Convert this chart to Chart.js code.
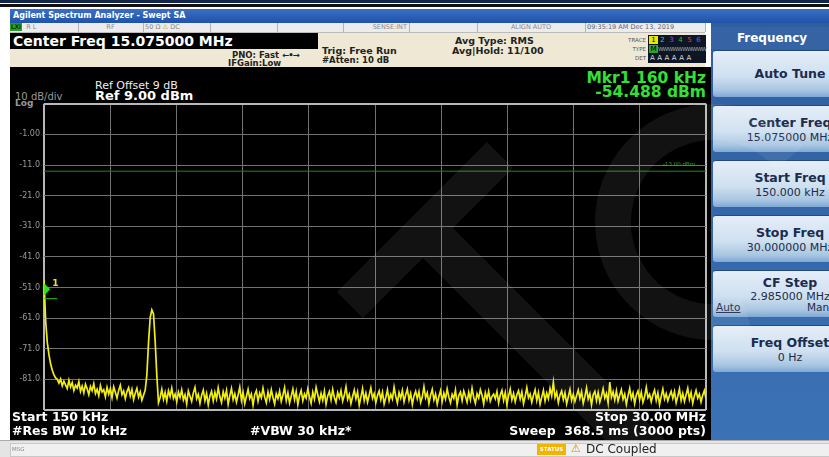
<!DOCTYPE html>
<html>
<head>
<meta charset="utf-8">
<script src="https://cdn.jsdelivr.net/npm/chart.js@4.4.1/dist/chart.umd.min.js"></script>
<style>
  body { margin: 0; width: 829px; height: 457px; overflow: hidden; position: relative; background: #fff; font-family: "DejaVu Sans", Verdana, sans-serif; }
  .abs { position: absolute; white-space: nowrap; }
  .b { font-weight: bold; }
  .cell { position: absolute; top: 0; height: 9px; border-right: 1px solid #b4b4b4; font-size: 6.5px; color: #8a8a8a; line-height: 9px; }
  .btn { position: absolute; left: 713px; width: 154px; height: 46px; border-radius: 3px;
         background: linear-gradient(#e4eef8, #cfe0f0 55%, #a9c6e2 85%, #7ea9d6); color: #1b2c4c; text-align: center;
         border-top: 1px solid #25497d; }
  .btn .t { font-size: 12.5px; font-weight: bold; margin-top: 9px; }
  .btn .s { font-size: 11px; margin-top: 1px; }
  .tr { position: absolute; width: 9px; height: 8px; font-size: 7px; line-height: 8px; text-align: center; }
  .w { color: #fff; font-weight: bold; font-size: 12.5px; }
</style>
</head>
<body>

<!-- window frame -->
<div class="abs" style="left:0;top:0;width:829px;height:3px;background:#13264a"></div>
<div class="abs" style="left:0;top:4px;width:829px;height:3px;background:#111"></div>
<div class="abs b" style="left:10px;top:9px;width:819px;height:14px;background:linear-gradient(#3a70c4,#1f52a8);color:#fff;font-size:8px;line-height:14px;padding-left:3px">Agilent Spectrum Analyzer - Swept SA</div>

<!-- status row -->
<div class="abs" style="left:10px;top:23px;width:695px;height:9px;background:#ececec;border-bottom:1px solid #bbb">
  <div class="cell" style="left:0;width:68px"><span style="background:#2a9a2a;color:#000;padding:0 1px">LXI</span>&nbsp; R L</div>
  <div class="cell" style="left:68px;width:65px;text-align:center">RF</div>
  <div class="cell" style="left:133px;width:67px">&nbsp;50 Ω <span style="color:#d89a00">⚠</span> DC</div>
  <div class="cell" style="left:200px;width:67px"></div>
  <div class="cell" style="left:267px;width:66px"></div>
  <div class="cell" style="left:333px;width:66px;text-align:right">SENSE:INT&nbsp;</div>
  <div class="cell" style="left:400px;width:67px"></div>
  <div class="cell" style="left:467px;width:108px;text-align:center">ALIGN AUTO</div>
  <div class="cell" style="left:575px;width:120px;color:#666">&nbsp;09:35:19 AM Dec 13, 2019</div>
</div>

<!-- settings panel -->
<div class="abs" style="left:10px;top:33px;width:695px;height:34px;background:#eee8d5"></div>
<div class="abs b" style="left:10px;top:33px;width:305px;height:16px;background:#000;color:#fff;font-size:14px;line-height:16px;padding-left:3px">Center Freq 15.075000 MHz</div>
<div class="abs b" style="left:232px;top:50px;font-size:8.5px;color:#222">PNO: Fast <span style="letter-spacing:-1px">←•→</span></div>
<div class="abs b" style="left:228px;top:58px;font-size:8.5px;color:#222">IFGain:Low</div>
<div class="abs b" style="left:322px;top:45px;font-size:9.5px;color:#222">Trig: Free Run</div>
<div class="abs b" style="left:322px;top:55px;font-size:8.5px;color:#222">#Atten: 10 dB</div>
<div class="abs b" style="left:455px;top:35px;font-size:9.5px;color:#222">Avg Type: RMS</div>
<div class="abs b" style="left:452px;top:45px;font-size:9.5px;color:#222">Avg|Hold: 11/100</div>
<div class="abs" style="left:614px;top:36px;font-size:5.5px;color:#555;text-align:right;width:32px;line-height:9px">TRACE<br>TYPE<br>DET</div>
<div class="abs" style="left:648px;top:35px;width:58px;height:28px;background:#0e1626"></div>
<div class="tr" style="left:649px;top:36px;background:#e8e800;color:#000">1</div>
<div class="tr" style="left:658px;top:36px;color:#22c8e8">2</div>
<div class="tr" style="left:667px;top:36px;color:#d030d0">3</div>
<div class="tr" style="left:676px;top:36px;color:#30c030">4</div>
<div class="tr" style="left:685px;top:36px;color:#e04040">5</div>
<div class="tr" style="left:694px;top:36px;color:#5060ff">6</div>
<div class="tr" style="left:649px;top:45px;background:#30a030;color:#000">M</div>
<div class="abs" style="left:658px;top:45px;font-size:5.5px;line-height:8px;color:#aaa;letter-spacing:-0.6px">WWWWWWWWWW</div>
<div class="abs" style="left:650px;top:54px;font-size:7px;line-height:8px;color:#ddd;letter-spacing:2.3px">AAAAAA</div>

<!-- screen -->
<div class="abs" style="left:10px;top:67px;width:701px;height:373px;background:#000"></div>
<div class="abs" style="left:95px;top:79px;font-size:11px;color:#eee">Ref Offset 9 dB</div>
<div class="abs b" style="left:95px;top:88px;font-size:13px;color:#fff">Ref 9.00 dBm</div>
<div class="abs" style="left:15px;top:91px;font-size:10px;color:#999">10 dB/div</div>
<div class="abs b" style="left:15px;top:98px;font-size:9px;color:#999">Log</div>
<div class="abs b" style="right:123px;top:69px;font-size:15.5px;color:#35e035">Mkr1 160 kHz</div>
<div class="abs b" style="right:123px;top:83px;font-size:15.5px;color:#35e035">-54.488 dBm</div>

<canvas id="sa" class="abs" width="700" height="325" style="left:10px;top:95px"></canvas>
<div class="abs" style="left:663px;top:161px;font-size:5.5px;color:#2aa02a">-13.00 dBm</div>

<div class="abs w" style="left:12px;top:409px">Start 150 kHz</div>
<div class="abs w" style="left:12px;top:423px">#Res BW 10 kHz</div>
<div class="abs w" style="left:250px;top:423px">#VBW 30 kHz*</div>
<div class="abs w" style="right:123px;top:409px">Stop 30.00 MHz</div>
<div class="abs w" style="right:123px;top:423px">Sweep &nbsp;368.5 ms (3000 pts)</div>

<!-- softkey panel -->
<div class="abs" style="left:711px;top:23px;width:118px;height:417px;background:linear-gradient(#2f5e9e,#3b72b6)"></div>
<div class="abs b" style="left:711px;top:27px;width:122px;height:22px;text-align:center;color:#fff;font-size:12px;line-height:22px;background:#3563a4">Frequency</div>
<div class="btn" style="top:50px"><div class="t" style="margin-top:15px">Auto Tune</div></div>
<div class="btn" style="top:105px"><div class="t">Center Freq</div><div class="s">15.075000 MHz</div></div>
<div class="btn" style="top:160px"><div class="t">Start Freq</div><div class="s">150.000 kHz</div></div>
<div class="btn" style="top:215px"><div class="t">Stop Freq</div><div class="s">30.000000 MHz</div></div>
<div class="btn" style="top:270px"><div class="t" style="margin-top:4px">CF Step</div><div class="s" style="margin-top:0">2.985000 MHz</div>
  <div class="abs" style="left:3px;top:30px;font-size:10.5px;text-decoration:underline">Auto</div>
  <div class="abs" style="left:94px;top:30px;font-size:10.5px">Man</div></div>
<div class="btn" style="top:325px"><div class="t">Freq Offset</div><div class="s">0 Hz</div></div>

<!-- message bar -->
<div class="abs" style="left:0;top:440px;width:829px;height:17px;background:#e4e4e4;border-top:1px solid #aaa"></div>
<div class="abs" style="left:10px;top:443px;width:819px;height:12px;background:#f0f0f0;border:1px solid #c8c8c8"></div>
<div class="abs" style="left:12px;top:446px;font-size:5.5px;color:#888">MSG</div>
<div class="abs b" style="left:537px;top:444px;width:29px;height:11px;background:#f2b400;color:#fff;font-size:5.5px;line-height:11px;text-align:center">STATUS</div>
<div class="abs" style="left:571px;top:442px;font-size:11px;color:#d09000">⚠</div>
<div class="abs" style="left:586px;top:442px;font-size:12px;color:#222">DC Coupled</div>

<!-- faint logo watermark over the screen -->
<svg class="abs" width="829" height="457" style="left:0;top:0;pointer-events:none">
  <g opacity="0.07" fill="#fff">
    <polygon points="337,292 487,142 513,168 363,318"/>
    <polygon points="410,245 440,215 665,440 605,440"/>
  </g>
  <path d="M 789.6 157.7 A 100 100 0 1 0 747.2 316" fill="none" stroke="#fff" stroke-width="36" opacity="0.07"/>
</svg>

<script>
// Sweep settings (MHz) and reference level (dBm)
const startFreq = 0.15;
const stopFreq = 30;
const refLevel = 9;
const dbPerDiv = 10;
const displayLine = -13;
const markerFreq = 0.16;
const markerDbm = -54.488;

// trace, equally spaced between start and stop
const traceDbm = [
  -48.5, -62, -69, -73, -76, -78, -79.5, -80.5, -81, -82.2, -80.9, -83.1, -81.6, -82.8, -84.0, -81.3, -83.5, -82.1, -84.6, -82.9,
  -83.8, -81.7, -84.9, -83.2, -85.4, -82.6, -84.1, -86.0, -83.3, -84.7, -82.4, -85.6, -84.2, -86.3, -83.0, -85.1, -84.4, -86.7, -83.6, -85.8,
  -84.0, -86.9, -83.4, -85.2, -87.1, -84.6, -82.9, -86.0, -84.8, -87.3, -85.0, -83.7, -86.4, -84.3, -87.6, -85.5, -83.9, -86.8, -85.1, -87.8,
  -86.2, -84.5, -79.5, -69.0, -60.8, -58.3, -59.6, -68.5, -79.8, -88.6, -86.9, -84.2, -87.5, -85.3, -88.1, -84.7, -86.6, -83.9, -87.2, -85.8,
  -88.3, -85.1, -86.9, -84.4, -87.7, -86.0, -89.0, -84.8, -86.5, -88.2, -85.4, -83.6, -87.3, -85.9, -88.8, -86.2, -84.5, -87.9, -85.6, -89.3,
  -86.4, -84.9, -88.0, -85.2, -87.4, -83.8, -86.7, -88.5, -85.0, -87.1, -84.6, -89.1, -86.3, -84.0, -87.6, -85.7, -88.4, -86.1, -83.5, -87.8,
  -85.3, -88.9, -86.6, -84.3, -87.2, -85.8, -89.4, -86.0, -84.7, -88.1, -85.5, -87.0, -83.9, -86.8, -88.6, -85.1, -87.5, -84.4, -86.9, -89.0,
  -85.7, -87.3, -84.8, -88.2, -86.1, -83.7, -87.9, -85.4, -88.7, -86.5, -84.2, -87.6, -85.0, -89.2, -86.3, -84.6, -88.0, -85.8, -87.1, -84.1,
  -86.7, -88.8, -85.2, -87.4, -83.6, -86.0, -88.3, -85.6, -87.8, -84.9, -89.1, -86.4, -85.0, -87.7, -84.3, -86.9, -88.5, -85.3, -87.0, -84.7,
  -88.1, -86.2, -83.4, -87.5, -85.9, -88.9, -86.6, -84.5, -87.3, -85.1, -89.4, -86.8, -84.0, -87.9, -85.5, -88.4, -86.1, -83.8, -87.2, -85.7,
  -88.6, -86.3, -84.8, -87.6, -85.2, -89.0, -86.9, -84.4, -88.0, -85.9, -87.4, -83.5, -86.5, -88.7, -85.3, -87.1, -84.6, -88.3, -86.0, -84.2,
  -87.8, -85.6, -89.2, -86.4, -84.9, -87.3, -85.0, -88.5, -86.7, -83.4, -87.0, -85.4, -88.9, -86.2, -84.3, -87.7, -85.8, -89.1, -86.6, -84.7,
  -88.2, -85.5, -87.4, -84.1, -86.8, -88.6, -85.9, -87.2, -84.5, -89.3, -86.3, -85.1, -87.9, -84.8, -86.5, -88.4, -85.2, -87.6, -83.9, -86.9,
  -88.8, -85.7, -87.1, -84.4, -86.2, -89.0, -85.4, -87.5, -84.9, -88.1, -86.6, -85.8, -87.3, -85.0, -88.7, -86.1, -84.6, -87.8, -85.3, -89.2,
  -86.4, -84.2, -87.7, -85.6, -88.3, -86.0, -84.7, -87.4, -85.1, -88.9, -86.5, -83.7, -87.0, -85.8, -88.5, -86.2, -84.4, -87.9, -85.3, -89.1,
  -86.8, -84.6, -88.0, -85.5, -87.3, -84.0, -86.4, -82.0, -86.9, -85.2, -88.6, -86.1, -84.8, -87.6, -85.4, -89.0, -86.7, -84.3, -87.8, -85.9,
  -88.2, -86.3, -84.5, -87.2, -85.0, -88.8, -86.6, -83.8, -87.4, -85.7, -89.3, -86.0, -84.9, -87.9, -85.3, -88.4, -86.5, -84.1, -87.1, -85.6,
  -88.7, -81.9, -86.8, -85.1, -87.7, -84.7, -88.1, -86.2, -84.4, -87.5, -85.8, -89.1, -86.4, -84.0, -87.3, -85.5, -88.9, -86.1, -84.8, -87.6,
  -85.2, -88.5, -86.7, -83.6, -87.0, -85.9, -88.3, -86.0, -84.5, -87.8, -85.4, -89.2, -86.6, -84.2, -87.4, -85.7, -88.0, -86.3, -84.9, -87.2,
  -85.0, -88.6, -86.5, -84.1, -87.9, -85.6, -88.2, -86.0, -83.9, -87.5, -85.3, -88.8, -86.4, -84.6, -87.1, -85.8, -88.4, -86.2, -84.7, -87.3
];

// y labels as the analyzer prints them (top and bottom lines unlabeled)
const yTickLabels = ['', '-1.00', '-11.0', '-21.0', '-31.0', '-41.0', '-51.0', '-61.0', '-71.0', '-81.0', ''];

const step = (stopFreq - startFreq) / (traceDbm.length - 1);
const tracePoints = traceDbm.map((v, i) => ({ x: startFreq + i * step, y: v }));
const bottomLevel = refLevel - dbPerDiv * 10;

// Marker 1: green flag at the left edge, plus its number
const markerPlugin = {
  id: 'marker',
  afterDatasetsDraw(chart) {
    const { ctx, scales } = chart;
    const px = scales.x.getPixelForValue(markerFreq);
    const py = scales.y.getPixelForValue(markerDbm);
    ctx.save();
    ctx.strokeStyle = '#22c022';
    ctx.lineWidth = 1;
    ctx.beginPath();
    ctx.moveTo(px, py + 0.5);
    ctx.lineTo(px + 13, py + 0.5);
    ctx.stroke();
    ctx.fillStyle = '#22e022';
    ctx.beginPath();
    ctx.moveTo(px, py - 15);
    ctx.lineTo(px + 6, py - 9);
    ctx.lineTo(px, py - 3);
    ctx.closePath();
    ctx.fill();
    ctx.fillStyle = '#e8e040';
    ctx.font = 'bold 9px "DejaVu Sans"';
    ctx.fillText('1', px + 8, py - 12);
    ctx.restore();
  }
};

const edge = (c, n) => c.index === 0 || c.index === n;

const ctx = document.getElementById('sa').getContext('2d');
const saChart = new Chart(ctx, {
  type: 'line',
  data: {
    datasets: [
      {
        data: tracePoints,
        borderColor: '#f2ef10',
        borderWidth: 1.7,
        pointRadius: 0,
        tension: 0,
      },
      {
        data: [{ x: startFreq, y: displayLine }, { x: stopFreq, y: displayLine }],
        borderColor: '#1e8c1e',
        borderWidth: 1,
        pointRadius: 0,
      },
    ],
  },
  options: {
    responsive: false,
    animation: false,
    devicePixelRatio: 1,
    layout: { padding: { top: 8, right: 4, bottom: 10, left: 0 } },
    plugins: { legend: { display: false }, tooltip: { enabled: false } },
    scales: {
      x: {
        type: 'linear',
        min: startFreq,
        max: stopFreq,
        afterBuildTicks: (axis) => {
          axis.ticks = [];
          for (let i = 0; i <= 10; i++) axis.ticks.push({ value: startFreq + i * (stopFreq - startFreq) / 10 });
        },
        afterFit: (axis) => { axis.height = 0; },
        ticks: { display: false },
        grid: {
          drawTicks: false,
          color: (c) => edge(c, 10) ? '#b8b8b8' : '#727272',
          lineWidth: (c) => edge(c, 10) ? 2 : 1,
        },
        border: { display: false },
      },
      y: {
        min: bottomLevel,
        max: refLevel,
        afterBuildTicks: (axis) => {
          axis.ticks = [];
          for (let i = 0; i <= 10; i++) axis.ticks.push({ value: refLevel - i * dbPerDiv });
        },
        afterFit: (axis) => { axis.width = 34; },
        ticks: {
          autoSkip: false,
          color: '#9a9a9a',
          font: { size: 8, family: 'DejaVu Sans' },
          padding: 4,
          callback: (v, i) => yTickLabels[i],
        },
        grid: {
          drawTicks: false,
          color: (c) => edge(c, 10) ? '#b8b8b8' : '#727272',
          lineWidth: (c) => edge(c, 10) ? 2 : 1,
        },
        border: { display: false },
      },
    },
  },
  plugins: [markerPlugin],
});
</script>
</body>
</html>
